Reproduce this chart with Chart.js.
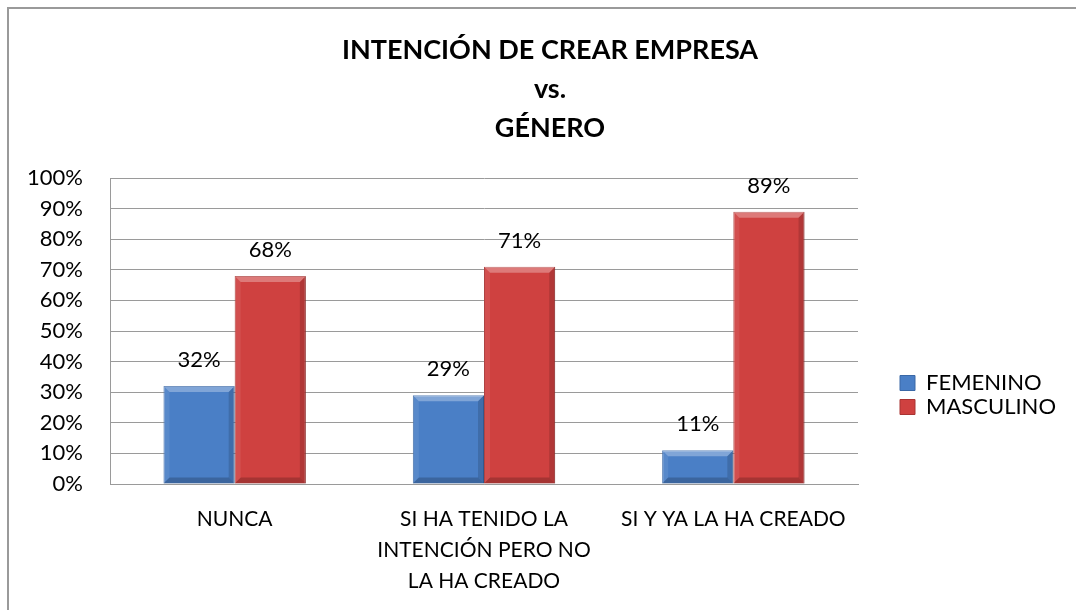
<!DOCTYPE html>
<html>
<head>
<meta charset="utf-8">
<script src="https://cdn.jsdelivr.net/npm/chart.js@4/dist/chart.umd.min.js"></script>
<style>
  html, body { margin: 0; padding: 0; background: #fff; overflow: hidden; }
  #wrap { position: relative; width: 1076px; height: 610px; overflow: hidden; }
  #frameTop { position: absolute; left: 7px; top: 7px; width: 1069px; height: 2px; background: #9a9a9a; }
  #frameLeft { position: absolute; left: 7px; top: 7px; width: 2px; height: 603px; background: #9a9a9a; }
  canvas { position: absolute; left: 0; top: 0; }
</style>
</head>
<body>
<div id="wrap">
  <div id="frameTop"></div>
  <div id="frameLeft"></div>
  <canvas id="chart" width="1076" height="610"></canvas>
</div>
<script>
// Data
const categories = ["NUNCA", ["SI HA TENIDO LA", "INTENCIÓN PERO NO", "LA HA CREADO"], "SI Y YA LA HA CREADO"];
const femenino = [32, 29, 11];
const masculino = [68, 71, 89];
const yTicks = [0, 10, 20, 30, 40, 50, 60, 70, 80, 90, 100];
const titleLines = ["INTENCIÓN DE CREAR EMPRESA", "vs.", "GÉNERO"];

const FONT = "Lato";

// Bevel look of the Excel bars, drawn on top of each bar element
const barBevel = {
    id: "barBevel",
    afterDatasetsDraw(chart) {
        const ctx = chart.ctx;
        const b = 6;
        ctx.save();
        chart.data.datasets.forEach((ds, i) => {
            chart.getDatasetMeta(i).data.forEach(bar => {
                const l = bar.x - bar.width / 2, r = bar.x + bar.width / 2;
                const t = bar.y, bt = bar.base;
                // top bevel
                ctx.fillStyle = "rgba(255,255,255,0.30)";
                ctx.beginPath();
                ctx.moveTo(l, t); ctx.lineTo(r, t); ctx.lineTo(r - b, t + b); ctx.lineTo(l + b, t + b);
                ctx.closePath(); ctx.fill();
                // right side shade
                ctx.fillStyle = "rgba(0,0,0,0.14)";
                ctx.beginPath();
                ctx.moveTo(r, t); ctx.lineTo(r, bt); ctx.lineTo(r - b, bt - b); ctx.lineTo(r - b, t + b);
                ctx.closePath(); ctx.fill();
                // bottom shade
                ctx.fillStyle = "rgba(0,0,0,0.20)";
                ctx.beginPath();
                ctx.moveTo(l, bt); ctx.lineTo(r, bt); ctx.lineTo(r - b, bt - b); ctx.lineTo(l + b, bt - b);
                ctx.closePath(); ctx.fill();
                // left side light
                ctx.fillStyle = "rgba(255,255,255,0.08)";
                ctx.beginPath();
                ctx.moveTo(l, t); ctx.lineTo(l + b, t + b); ctx.lineTo(l + b, bt - b); ctx.lineTo(l, bt);
                ctx.closePath(); ctx.fill();
            });
        });
        ctx.restore();
    }
};

// Percent labels above each bar
const barLabels = {
    id: "barLabels",
    afterDatasetsDraw(chart) {
        const ctx = chart.ctx;
        ctx.save();
        ctx.font = "22px " + FONT;
        ctx.fillStyle = "#000";
        ctx.textAlign = "center";
        ctx.textBaseline = "middle";
        chart.data.datasets.forEach((ds, i) => {
            chart.getDatasetMeta(i).data.forEach((bar, j) => {
                ctx.fillText(ds.data[j] + "%", bar.x, bar.y - 26);
            });
        });
        ctx.restore();
    }
};

// Give the legend a fixed width so it sits where Excel put it
const legendWidth = {
    id: "legendWidth",
    beforeLayout(chart) {
        const lg = chart.legend;
        if (lg && !lg._fixedWidth) {
            const fit = lg.fit;
            lg.fit = function () {
                fit.call(this);
                this.width = 178;
            };
            lg._fixedWidth = true;
        }
    }
};

function drawChart() {
    Chart.defaults.font.family = FONT;
    Chart.defaults.color = "#000";

    const ctx = document.getElementById("chart").getContext("2d");
    new Chart(ctx, {
        type: "bar",
        data: {
            labels: categories,
            datasets: [
                {
                    label: "FEMENINO",
                    data: femenino,
                    backgroundColor: "#4a7fc6",
                    borderColor: "#3a68a6",
                    borderWidth: 1,
                    categoryPercentage: 0.571,
                    barPercentage: 1,
                },
                {
                    label: "MASCULINO",
                    data: masculino,
                    backgroundColor: "#cf4140",
                    borderColor: "#a83433",
                    borderWidth: 1,
                    categoryPercentage: 0.571,
                    barPercentage: 1,
                },
            ],
        },
        options: {
            responsive: false,
            animation: false,
            layout: {
                padding: { left: 24, right: 0, top: 10, bottom: 6 },
            },
            plugins: {
                title: {
                    display: true,
                    text: titleLines,
                    font: { size: 27, weight: "bold", lineHeight: "39px" },
                    color: "#000",
                    padding: { top: 21, bottom: 30 },
                },
                legend: {
                    position: "right",
                    align: "start",
                    title: {
                        display: true,
                        text: " ",
                        font: { size: 10, lineHeight: 1 },
                        padding: { top: 350, bottom: 0 },
                    },
                    labels: {
                        font: { size: 22 },
                        boxWidth: 15,
                        boxHeight: 15,
                        padding: 2,
                        color: "#000",
                    },
                },
                tooltip: { enabled: false },
            },
            scales: {
                x: {
                    grid: { display: false, drawTicks: false },
                    border: { display: true, color: "#9a9a9a" },
                    ticks: {
                        font: { size: 21, lineHeight: "31px" },
                        padding: 20,
                        maxRotation: 0,
                        autoSkip: false,
                    },
                    afterFit(scale) {
                        scale.height = 120;
                    },
                },
                y: {
                    min: 0,
                    max: 100,
                    afterBuildTicks(scale) {
                        scale.ticks = yTicks.map(v => ({ value: v }));
                    },
                    afterFit(scale) {
                        scale.width = 86;
                    },
                    grid: { color: "#9a9a9a", lineWidth: 1, drawTicks: false },
                    border: { display: true, color: "#9a9a9a" },
                    ticks: {
                        font: { size: 22 },
                        padding: 27,
                        autoSkip: false,
                        callback: v => v + "%",
                    },
                },
                y2: {
                    position: "right",
                    display: true,
                    grid: { display: false },
                    border: { display: false },
                    ticks: { display: false },
                    afterFit(scale) {
                        scale.width = 40;
                    },
                },
            },
        },
        plugins: [barBevel, barLabels, legendWidth],
    });
}

document.fonts.load("22px " + FONT).then(drawChart, drawChart);
</script>
</body>
</html>
